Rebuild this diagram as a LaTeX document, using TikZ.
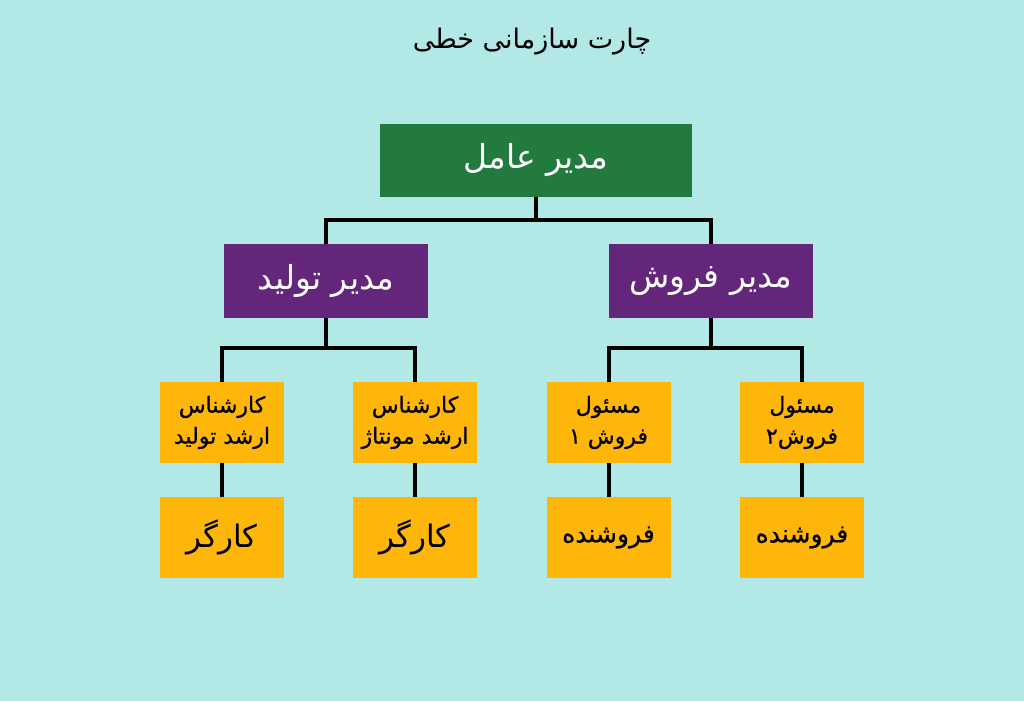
\documentclass[tikz,border=0pt]{standalone}
\usepackage{fontspec}
\newfontfamily\arabicfont[Script=Arabic]{DejaVu Sans}
\newfontfamily\arabicmed[Script=Arabic,FakeBold=0.7]{DejaVu Sans}
\TeXXeTstate=1
\definecolor{bgc}{HTML}{B2E8E6}
\definecolor{ceoc}{HTML}{237A3E}
\definecolor{mgrc}{HTML}{63267A}
\definecolor{orc}{HTML}{FFB60B}
\tikzset{
  box/.style={draw=none, inner sep=0pt, align=center, font=\arabicfont},
  ceobox/.style={box, fill=ceoc, text=white, minimum width=312pt, minimum height=73pt},
  mgrbox/.style={box, fill=mgrc, text=white, minimum width=204pt, minimum height=74pt},
  staffbox/.style={box, fill=orc, text=black, minimum width=124pt, minimum height=81pt},
  conn/.style={line width=4pt, black, line join=miter},
}
\begin{document}
\begin{tikzpicture}[x=1pt,y=-1pt]
\fill[bgc] (0,0) rectangle (1024,701);
\useasboundingbox (0,0) rectangle (1024,701);
\node[font=\arabicfont\fontsize{27}{32}\selectfont] (title) at (532,42) {\beginR چارت سازمانی خطی\endR};
\node[ceobox, font=\arabicfont\fontsize{33}{38}\selectfont] (ceo) at (536,160) {\beginR مدیر عامل\endR};
\node[mgrbox, font=\arabicfont\fontsize{33}{38}\selectfont] (prod) at (326,281) {\beginR مدیر تولید\endR};
\node[mgrbox, font=\arabicfont\fontsize{33}{38}\selectfont] (sales) at (711,281) {\beginR مدیر فروش\endR};
\node[staffbox, font=\arabicmed\fontsize{22}{31}\selectfont] (s1) at (222,422.5) {\beginR کارشناس\endR\\\beginR ارشد تولید\endR};
\node[staffbox, font=\arabicmed\fontsize{22}{31}\selectfont] (s2) at (415,422.5) {\beginR کارشناس\endR\\\beginR ارشد مونتاژ\endR};
\node[staffbox, font=\arabicmed\fontsize{22}{31}\selectfont] (s3) at (608.5,422.5) {\beginR مسئول\endR\\\beginR فروش ۱\endR};
\node[staffbox, font=\arabicmed\fontsize{22}{31}\selectfont] (s4) at (802,422.5) {\beginR مسئول\endR\\\beginR فروش۲\endR};
\node[staffbox, font=\arabicfont\fontsize{31}{36}\selectfont] (w1) at (222,537.5) {\beginR کارگر\endR};
\node[staffbox, font=\arabicfont\fontsize{31}{36}\selectfont] (w2) at (415,537.5) {\raisebox{-5pt}{\beginR کارگر\endR}};
\node[staffbox, font=\arabicmed\fontsize{25}{30}\selectfont] (w3) at (608.5,537.5) {\beginR فروشنده\endR};
\node[staffbox, font=\arabicmed\fontsize{25}{30}\selectfont] (w4) at (802,537.5) {\beginR فروشنده\endR};
\coordinate (j1) at (536,220);
\coordinate (j2) at (326,348);
\coordinate (j3) at (711,348);
\draw[conn] (ceo.south) -- (j1);
\draw[conn] (prod.north) |- (j1) -| (sales.north);
\draw[conn] (prod.south) -- (j2);
\draw[conn] (s1.north) |- (j2) -| (s2.north);
\draw[conn] (sales.south) -- (j3);
\draw[conn] (s3.north) |- (j3) -| (s4.north);
\draw[conn] (s1.south) -- (w1.north);
\draw[conn] (s2.south) -- (w2.north);
\draw[conn] (s3.south) -- (w3.north);
\draw[conn] (s4.south) -- (w4.north);
\end{tikzpicture}
\end{document}
